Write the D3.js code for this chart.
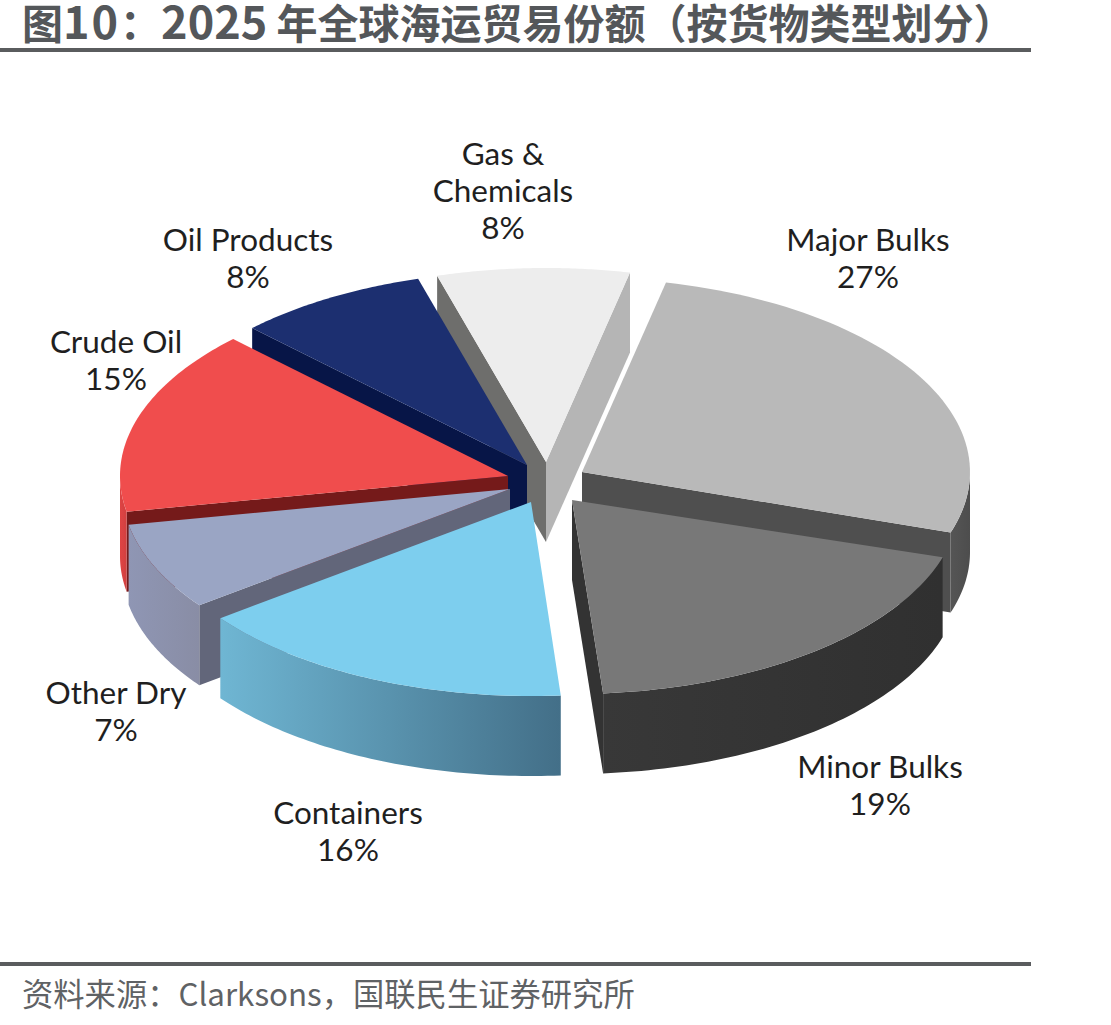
<!DOCTYPE html>
<html>
<head>
<meta charset="utf-8">
<script src="https://cdn.jsdelivr.net/npm/d3@7/dist/d3.min.js"></script>
<style>
html,body{margin:0;padding:0;background:#fff;}
svg{display:block;}
</style>
</head>
<body>
<div id="chart"></div>
<script>
// Cargo categories and their share of seaborne trade, clockwise from the top
const categories = ["Major Bulks","Minor Bulks","Containers","Other Dry","Crude Oil","Oil Products","Gas & Chemicals"];
const shares = [27,19,16,7,15,8,8];

// Label lines for each category (the category name may wrap)
const labelNames = [["Major Bulks"],["Minor Bulks"],["Containers"],["Other Dry"],["Crude Oil"],["Oil Products"],["Gas &","Chemicals"]];

// Where each exploded wedge has its tip, and where its label block is centred
const wedgeTips = [[582,472],[572,500],[531,502],[510,489],[508,476],[527,465],[546,462]];
const labelCentres = [[868,258],[880,785],[348,831],[116,711],[116,360],[248,258],[503,191]];

// Small edge corrections in degrees [start, end] for the tilted view of each wedge
const edgeNudges = [[0,-1.5],[-2.5,-2.7],[-2.5,-2.5],[-2.5,-1.5],[-1.5,0],[0,0],[0,0]];

// Top face, radial wall and rim colours per wedge
const topColours = ["#b9b9b9","#787878","#7dceee","#9aa5c4","#f04d4d","#1c2f70","#ededed"];
const startWallColours = ["#4f4f4f","#333333","#4f7f97","#62667a","#751a1a","#071547","#6e6e6c"];
const endWallColours = ["#4f4f4f","#333333","#4f7f97","#62667a","#751a1a","#071547","#b5b5b5"];
const rimGradients = [["#555555","#4d4d4d"],["#383838","#303030"],["#6fb6d3","#436f88"],["#8f96b4","#898da5"],["#de4444","#d24040"],["#071547","#071547"],["#6e6e6c","#6e6e6c"]];

const width = 1111, height = 1025;
const rx = 388, ry = 194, depth = 80;
const toRad = Math.PI / 180;

const svg = d3.select("#chart").append("svg").attr("width", width).attr("height", height);
const defs = svg.append("defs");

// Angles come from the pie layout; the first wedge begins just right of twelve o'clock
const arcs = d3.pie().sort(null).startAngle(12.5 * toRad).endAngle(372.5 * toRad)(shares);

const line = d3.line();
const rimPoint = (tip, angle, drop = 0) => [
  tip[0] + rx * Math.sin(angle),
  tip[1] - ry * Math.cos(angle) + drop
];
const rimSamples = (a0, a1) => d3.range(0, 61).map(i => a0 + (a1 - a0) * i / 60);

// Painter's order: back wedges first, front wedges last
const drawOrder = [0, 6, 5, 4, 3, 1, 2];
const layer = svg.append("g").attr("class", "pie");

drawOrder.forEach(i => {
  const tip = wedgeTips[i];
  const a0 = arcs[i].startAngle + edgeNudges[i][0] * toRad;
  const a1 = arcs[i].endAngle + edgeNudges[i][1] * toRad;
  const g = layer.append("g").attr("class", "wedge").attr("data-name", categories[i]);

  // A radial wall shows only when its outward normal points towards the viewer
  if (Math.sin(a0) < 0) {
    g.append("path").attr("fill", startWallColours[i]).attr("d", line([
      tip, rimPoint(tip, a0), rimPoint(tip, a0, depth), [tip[0], tip[1] + depth]
    ]) + "Z");
  }
  if (Math.sin(a1) > 0) {
    g.append("path").attr("fill", endWallColours[i]).attr("d", line([
      tip, rimPoint(tip, a1), rimPoint(tip, a1, depth), [tip[0], tip[1] + depth]
    ]) + "Z");
  }

  // Curved rim: only the part of the arc on the near side of the ellipse
  const lo = Math.max(a0, 90 * toRad), hi = Math.min(a1, 270 * toRad);
  if (hi > lo) {
    const samples = rimSamples(lo, hi);
    const upper = samples.map(t => rimPoint(tip, t));
    const lower = samples.map(t => rimPoint(tip, t, depth)).reverse();
    const [cRight, cLeft] = rimGradients[i];
    const id = "rim" + i;
    const grad = defs.append("linearGradient").attr("id", id)
      .attr("gradientUnits", "userSpaceOnUse")
      .attr("x1", d3.min(upper, p => p[0])).attr("x2", d3.max(upper, p => p[0]))
      .attr("y1", 0).attr("y2", 0);
    grad.append("stop").attr("offset", 0).attr("stop-color", cRight);
    grad.append("stop").attr("offset", 1).attr("stop-color", cLeft);
    g.append("path").attr("fill", `url(#${id})`).attr("d", line(upper.concat(lower)) + "Z");
  }

  // Top face
  const face = [tip].concat(rimSamples(a0, a1).map(t => rimPoint(tip, t)));
  g.append("path").attr("fill", topColours[i]).attr("d", line(face) + "Z");
});

// Category labels with their percentages
const labelFont = "Lato, 'Open Sans', sans-serif";
categories.forEach((c, i) => {
  const rows = labelNames[i].concat([shares[i] + "%"]);
  const [cx, cy] = labelCentres[i];
  const step = 37;
  rows.forEach((row, k) => {
    svg.append("text")
      .attr("x", cx)
      .attr("y", cy + (k - (rows.length - 1) / 2) * step + 11)
      .attr("text-anchor", "middle")
      .attr("font-family", labelFont)
      .attr("font-size", 31.5)
      .attr("fill", "#1f1f1f")
      .text(row);
  });
});

// Heading, source line and the two rules
const frame = "#5a5c5e";
const cjk = "'Noto Sans CJK SC', 'Noto Sans', sans-serif";
const heading = svg.append("text").attr("x", 22).attr("y", 39)
  .attr("font-family", cjk).attr("font-weight", 700).attr("font-size", 41)
  .attr("fill", "#54575a");
heading.append("tspan").text("图");
heading.append("tspan").attr("font-size", 45).attr("letter-spacing", 2).text("10");
heading.append("tspan").text("：");
heading.append("tspan").attr("font-size", 45).text("2025");
heading.append("tspan").text(" 年全球海运贸易份额（按货物类型划分）");
svg.append("rect").attr("x", 0).attr("y", 48).attr("width", 1031).attr("height", 4).attr("fill", frame);
svg.append("rect").attr("x", 0).attr("y", 962).attr("width", 1031).attr("height", 4).attr("fill", frame);
svg.append("text").attr("x", 22).attr("y", 1006)
  .attr("font-family", cjk).attr("font-size", 31.3)
  .attr("fill", "#5f6265").text("资料来源：Clarksons，国联民生证券研究所");
</script>
</body>
</html>
